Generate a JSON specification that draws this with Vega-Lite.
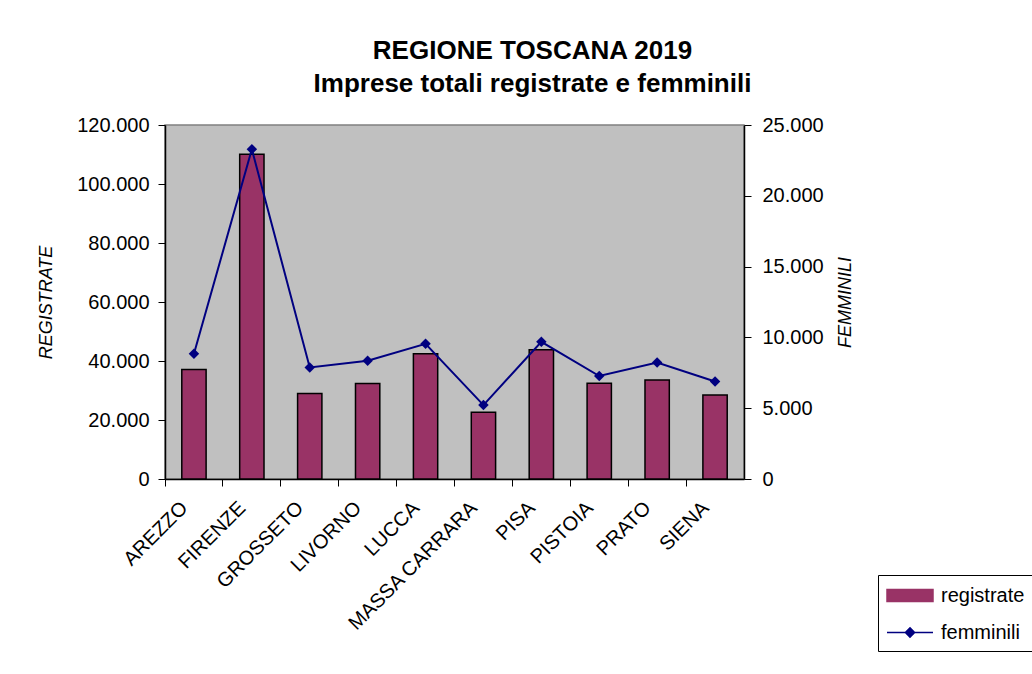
{
  "$schema": "https://vega.github.io/schema/vega-lite/v6.json",
  "width": 579,
  "height": 354,
  "autosize": {"type": "none"},
  "padding": {"left": 165, "top": 125, "right": 288, "bottom": 195},
  "background": "white",
  "title": {
    "text": ["REGIONE TOSCANA 2019", "Imprese totali registrate e  femminili"],
    "fontSize": 26,
    "fontWeight": "bold",
    "color": "black",
    "font": "Liberation Sans",
    "anchor": "middle",
    "dx": 78,
    "offset": 18,
    "lineHeight": 33
  },
  "config": {
    "font": "Liberation Sans",
    "view": {"fill": "#C0C0C0", "stroke": "#808080", "strokeWidth": 1.5},
    "axis": {
      "labelColor": "black",
      "titleColor": "black",
      "domainColor": "black",
      "tickColor": "black",
      "labelFontSize": 20,
      "titleFontSize": 18,
      "labelFont": "Liberation Sans",
      "titleFont": "Liberation Sans",
      "domainWidth": 1.5,
      "tickWidth": 1,
      "grid": false
    }
  },
  "data": {
    "values": [
      {"provincia": "AREZZO", "registrate": 37100, "femminili": 8840},
      {"provincia": "FIRENZE", "registrate": 110100, "femminili": 23290},
      {"provincia": "GROSSETO", "registrate": 29000, "femminili": 7880},
      {"provincia": "LIVORNO", "registrate": 32400, "femminili": 8350},
      {"provincia": "LUCCA", "registrate": 42500, "femminili": 9550},
      {"provincia": "MASSA CARRARA", "registrate": 22600, "femminili": 5220},
      {"provincia": "PISA", "registrate": 43800, "femminili": 9690},
      {"provincia": "PISTOIA", "registrate": 32500, "femminili": 7270},
      {"provincia": "PRATO", "registrate": 33600, "femminili": 8230},
      {"provincia": "SIENA", "registrate": 28450, "femminili": 6890}
    ]
  },
  "encoding": {
    "x": {
      "field": "provincia",
      "type": "nominal",
      "sort": null,
      "scale": {"paddingInner": 0, "paddingOuter": 0},
      "axis": {
        "title": null,
        "labelAngle": -45,
        "labelAlign": "right",
        "labelBaseline": "top",
        "bandPosition": 0,
        "labelOffset": -16.5,
        "labelPadding": 11.5,
        "tickSize": 7
      }
    }
  },
  "layer": [
    {
      "mark": {"type": "bar", "width": {"band": 0.42}, "stroke": "black", "strokeWidth": 1.5},
      "encoding": {
        "y": {
          "field": "registrate",
          "type": "quantitative",
          "scale": {"domain": [0, 120000], "nice": false},
          "axis": {
            "title": "REGISTRATE",
            "titleFontStyle": "italic",
            "titleFontWeight": "normal",
            "values": [0, 20000, 40000, 60000, 80000, 100000, 120000],
            "labelExpr": "replace(format(datum.value, ','), ',', '.')",
            "tickSize": 7,
            "labelPadding": 9,
            "titlePadding": 21
          }
        },
        "color": {
          "datum": "registrate",
          "type": "nominal",
          "scale": {"domain": ["registrate", "femminili"], "range": ["#993366", "#000080"]},
          "legend": {
            "title": null,
            "orient": "none",
            "legendX": 713,
            "legendY": 450,
            "padding": 8,
            "strokeColor": "black",
            "fillColor": "white",
            "symbolSize": 529,
            "symbolType": "M-1,-0.52H3V0.52H-1Z",
            "rowPadding": 14,
            "labelOffset": 30,
            "labelFontSize": 20,
            "labelColor": "black",
            "labelFont": "Liberation Sans",
            "symbolStrokeWidth": 1.5,
            "direction": "vertical",
            "encode": {
              "symbols": {
                "update": {
                  "shape": {"signal": "datum.value === 'registrate' ? 'M-1,-0.52H3V0.52H-1Z' : 'M-1,0H3M1,-0.4L1.4,0L1,0.4L0.6,0Z'"},
                  "fill": {"signal": "datum.value === 'registrate' ? '#993366' : '#000080'"},
                  "stroke": {"signal": "datum.value === 'registrate' ? 'black' : '#000080'"},
                  "opacity": {"value": 1}
                }
              }
            }
          }
        }
      }
    },
    {
      "mark": {"type": "line", "strokeWidth": 2, "point": {"filled": true, "shape": "diamond", "size": 110}},
      "encoding": {
        "y": {
          "field": "femminili",
          "type": "quantitative",
          "scale": {"domain": [0, 25000], "nice": false},
          "axis": {
            "orient": "right",
            "title": "FEMMINILI",
            "titleFontStyle": "italic",
            "titleFontWeight": "normal",
            "titleAngle": -90,
            "titleBaseline": "top",
            "values": [0, 5000, 10000, 15000, 20000, 25000],
            "labelExpr": "replace(format(datum.value, ','), ',', '.')",
            "tickSize": 7,
            "labelPadding": 11,
            "titlePadding": 13
          }
        },
        "color": {
          "datum": "femminili",
          "type": "nominal",
          "legend": {
            "title": null,
            "orient": "none",
            "legendX": 713,
            "legendY": 450,
            "padding": 8,
            "strokeColor": "black",
            "fillColor": "white",
            "symbolSize": 529,
            "symbolType": "M-1,-0.52H3V0.52H-1Z",
            "rowPadding": 14,
            "labelOffset": 30,
            "labelFontSize": 20,
            "labelColor": "black",
            "labelFont": "Liberation Sans",
            "symbolStrokeWidth": 1.5,
            "direction": "vertical",
            "encode": {
              "symbols": {
                "update": {
                  "shape": {"signal": "datum.value === 'registrate' ? 'M-1,-0.52H3V0.52H-1Z' : 'M-1,0H3M1,-0.4L1.4,0L1,0.4L0.6,0Z'"},
                  "fill": {"signal": "datum.value === 'registrate' ? '#993366' : '#000080'"},
                  "stroke": {"signal": "datum.value === 'registrate' ? 'black' : '#000080'"},
                  "opacity": {"value": 1}
                }
              }
            }
          }
        }
      }
    }
  ],
  "resolve": {"scale": {"y": "independent"}}
}
